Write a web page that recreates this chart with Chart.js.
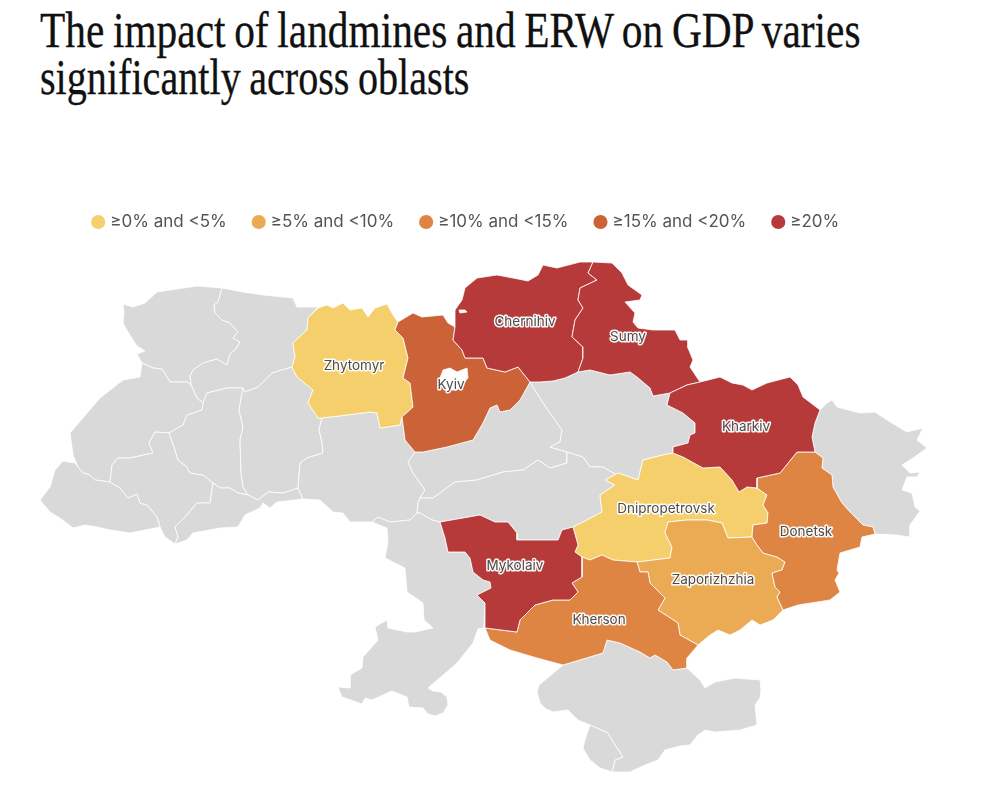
<!DOCTYPE html>
<html lang="en">
<head>
    <meta charset="UTF-8">
    <title>The impact of landmines and ERW on GDP varies significantly across oblasts</title>
    <script src="https://cdn.jsdelivr.net/npm/chart.js"></script>
    <style>
        html, body { margin: 0; padding: 0; background: #fff; overflow: hidden; }
        #head { height: 185px; position: relative; }
        h1 {
            position: absolute; left: 40px; top: 7px; margin: 0;
            font: normal 50px/47px "Liberation Serif", serif; color: #111;
            white-space: nowrap; word-spacing: -2px; -webkit-text-stroke: 0.3px #111;
        }
        h1 span { display: block; transform-origin: left top; }
        canvas { display: block; }
    </style>
</head>
<body>
    <div id="head"><h1><span style="transform: scaleX(0.827)">The impact of landmines and ERW on GDP varies</span><span style="transform: scaleX(0.803)">significantly across oblasts</span></h1></div>
    <canvas id="map" width="984" height="624"></canvas>

    <script>
        // Legend classes
        const binLabels = ['≥0% and <5%', '≥5% and <10%', '≥10% and <15%', '≥15% and <20%', '≥20%'];
        const binColors = ['#F5CF6C', '#EBAA54', '#DE8543', '#CC6238', '#B73A3A'];
        const noDataColor = '#D9D9D9';

        // Oblast outlines (x east, y south)
        const volyn = [[222,288],[197,286],[177,289],[157,292],[145,303],[133,307],[123,304],[124,313],[123,323],[128,332],[137,346],[145,351],[137,354],[142,363],[153,368],[162,369],[170,382],[187,382],[191,385],[190,376],[193,370],[203,363],[217,359],[227,365],[230,354],[235,350],[240,342],[233,338],[238,332],[230,323],[222,320],[215,313],[214,305],[218,302]];
        const rivne = [[222,288],[243,292],[263,295],[293,298],[297,307],[318,307],[308,318],[307,330],[293,343],[295,357],[292,367],[272,373],[258,387],[245,392],[243,388],[227,388],[207,393],[203,403],[197,398],[191,385],[190,376],[193,370],[203,363],[217,359],[227,365],[230,354],[235,350],[240,342],[233,338],[238,332],[230,323],[222,320],[215,313],[214,305],[218,302]];
        const lviv = [[142,363],[140,377],[123,380],[100,398],[70,433],[73,455],[78,467],[83,473],[90,475],[95,480],[110,482],[112,465],[118,458],[130,458],[153,453],[149,443],[155,432],[169,433],[183,425],[187,415],[202,410],[203,403],[197,398],[191,385],[187,382],[170,382],[162,369],[153,368]];
        const zakarpattia = [[78,467],[75,463],[63,461],[55,470],[50,487],[40,500],[50,512],[60,518],[73,528],[85,525],[97,527],[110,530],[130,533],[160,527],[157,517],[147,505],[140,503],[137,494],[128,498],[120,488],[110,482],[95,480],[90,475],[83,473]];
        const ivanoFrankivsk = [[110,482],[120,488],[128,498],[137,494],[140,503],[147,505],[157,517],[160,527],[165,537],[175,544],[178,537],[175,527],[185,517],[197,503],[210,503],[213,483],[203,475],[190,473],[187,467],[178,460],[175,450],[169,433],[155,432],[149,443],[153,453],[130,458],[118,458],[112,465]];
        const ternopil = [[203,403],[207,393],[227,388],[243,388],[239,410],[243,427],[240,440],[241,473],[243,487],[248,495],[238,493],[230,488],[220,488],[213,483],[203,475],[190,473],[187,467],[178,460],[175,450],[169,433],[183,425],[187,415],[202,410]];
        const khmelnytskyi = [[243,388],[245,392],[258,387],[272,373],[292,367],[297,377],[313,390],[308,403],[318,418],[322,418],[319,430],[322,442],[323,453],[307,458],[300,463],[298,488],[283,493],[268,492],[258,500],[248,495],[243,487],[241,473],[240,440],[243,427],[239,410]];
        const chernivtsi = [[213,483],[220,488],[230,488],[238,493],[248,495],[258,500],[268,492],[283,493],[298,488],[303,499],[277,502],[270,508],[263,503],[260,508],[245,515],[238,527],[220,528],[193,533],[187,540],[175,544],[178,537],[175,527],[185,517],[197,503],[210,503]];
        const vinnytsia = [[322,418],[347,415],[370,412],[377,413],[380,428],[400,425],[402,417],[405,440],[415,452],[408,462],[413,473],[425,490],[420,498],[418,503],[417,513],[410,520],[390,522],[378,517],[372,522],[350,522],[343,513],[333,512],[320,500],[303,499],[298,488],[300,463],[307,458],[323,453],[322,442],[319,430]];
        const cherkasy = [[415,452],[423,452],[447,447],[473,440],[483,423],[490,408],[497,405],[500,412],[510,410],[520,400],[530,382],[543,403],[562,430],[560,442],[550,447],[567,452],[567,463],[550,468],[538,460],[523,470],[503,472],[477,480],[455,482],[433,498],[420,498],[425,490],[413,473],[408,462]];
        const poltava = [[530,382],[540,382],[553,381],[565,378],[578,372],[590,370],[610,375],[630,372],[637,377],[650,388],[653,396],[670,393],[667,405],[683,413],[695,423],[695,433],[690,435],[688,443],[673,447],[673,453],[663,455],[643,460],[638,480],[620,477],[603,467],[590,467],[583,457],[567,452],[550,447],[560,442],[562,430],[543,403]];
        const kirovohrad = [[420,498],[433,498],[455,482],[477,480],[503,472],[523,470],[538,460],[550,468],[567,463],[567,452],[583,457],[590,467],[603,467],[620,477],[638,480],[618,473],[605,480],[615,485],[600,495],[602,512],[587,520],[573,527],[562,530],[558,540],[538,540],[527,540],[517,540],[517,533],[508,522],[495,522],[480,515],[463,518],[440,522],[432,520],[420,513],[417,513],[418,503]];
        const odesa = [[372,522],[387,528],[388,542],[385,558],[405,568],[407,592],[423,603],[424,620],[433,628],[415,632],[407,632],[388,628],[387,620],[375,627],[378,640],[363,657],[362,668],[350,675],[350,688],[338,687],[342,697],[362,704],[365,698],[372,700],[392,691],[407,697],[409,707],[423,708],[428,714],[435,716],[443,713],[448,705],[447,697],[441,692],[433,691],[428,688],[457,663],[473,643],[478,629],[484,628],[485,603],[477,595],[491,588],[490,582],[483,580],[473,572],[470,558],[465,552],[448,552],[445,538],[440,522],[432,520],[420,513],[417,513],[410,520],[390,522],[378,517]];
        const luhansk = [[815,452],[812,437],[815,423],[820,410],[827,403],[832,400],[837,407],[860,413],[875,412],[887,420],[907,432],[923,428],[917,440],[927,448],[913,458],[902,465],[910,473],[920,472],[917,477],[907,477],[902,490],[912,493],[915,507],[920,511],[910,525],[910,537],[897,535],[875,534],[873,527],[863,525],[850,512],[842,503],[833,487],[832,475],[822,468],[823,458]];
        const crimea = [[563,665],[603,653],[607,640],[620,643],[640,652],[650,658],[655,655],[667,662],[673,670],[687,668],[700,680],[705,688],[715,682],[735,678],[760,680],[761,690],[760,698],[755,705],[757,725],[740,730],[715,732],[705,730],[698,735],[690,745],[680,746],[665,750],[658,760],[645,765],[630,772],[612,772],[615,760],[623,757],[613,742],[610,737],[608,733],[590,725],[578,720],[568,710],[553,712],[546,709],[540,703],[537,692],[539,685],[545,680]];
        const sevastopol = [[590,725],[608,733],[610,737],[613,742],[623,757],[615,760],[612,772],[600,768],[590,760],[583,748],[585,740]];

        const zhytomyr = [[318,308],[327,305],[333,308],[343,303],[350,310],[362,308],[368,317],[375,308],[387,304],[393,315],[398,322],[395,330],[403,338],[408,358],[403,378],[410,383],[413,407],[402,417],[400,425],[380,428],[377,413],[370,412],[347,415],[322,418],[318,418],[308,403],[313,390],[297,377],[292,367],[295,357],[293,343],[307,330],[308,318]];
        const kyiv = [[398,322],[413,313],[422,317],[443,315],[448,323],[455,327],[453,340],[462,350],[465,358],[483,358],[487,368],[505,372],[518,367],[530,382],[520,400],[510,410],[500,412],[497,405],[490,408],[483,423],[473,440],[447,447],[423,452],[415,452],[405,440],[402,417],[413,407],[410,383],[403,378],[408,358],[403,338],[395,330]];
        const kyivCity = [[440,378],[443,370],[450,368],[457,372],[467,368],[468,378],[462,385],[457,390],[445,390]];
        const chernihivLake = [[459,310],[465,310],[467,312],[460,313]];
        const chernihiv = [[455,327],[455,310],[462,300],[465,288],[477,278],[497,275],[513,278],[528,281],[538,275],[543,265],[557,268],[580,262],[593,262],[588,273],[597,280],[580,288],[578,300],[583,308],[575,320],[572,337],[583,347],[583,358],[578,372],[565,378],[553,381],[540,382],[530,382],[518,367],[505,372],[487,368],[483,358],[465,358],[462,350],[453,340]];
        const sumy = [[593,262],[612,263],[622,273],[628,285],[642,295],[640,300],[625,302],[635,313],[633,322],[638,328],[653,330],[675,330],[680,340],[688,340],[688,348],[693,360],[690,367],[700,382],[687,385],[670,393],[653,396],[650,388],[637,377],[630,372],[610,375],[590,370],[578,372],[583,358],[583,347],[572,337],[575,320],[583,308],[578,300],[580,288],[597,280],[588,273]];
        const kharkiv = [[700,382],[720,377],[732,383],[743,385],[752,390],[767,383],[790,377],[798,385],[803,397],[820,410],[815,423],[812,437],[815,452],[797,452],[780,473],[757,478],[757,488],[747,487],[739,492],[732,480],[720,467],[703,468],[683,457],[673,453],[673,447],[688,443],[690,435],[695,433],[695,423],[683,413],[667,405],[670,393],[687,385]];
        const dnipropetrovsk = [[638,480],[643,460],[663,455],[673,453],[683,457],[703,468],[720,467],[732,480],[739,492],[747,487],[757,488],[767,495],[763,505],[768,513],[767,523],[753,525],[752,537],[728,538],[722,523],[707,520],[687,520],[668,522],[665,533],[672,547],[670,558],[637,562],[613,560],[602,555],[590,560],[582,557],[575,552],[578,545],[573,527],[587,520],[602,512],[600,495],[615,485],[605,480],[618,473]];
        const donetsk = [[757,478],[780,473],[797,452],[815,452],[823,458],[822,468],[832,475],[833,487],[842,503],[850,512],[863,525],[873,527],[875,534],[862,537],[860,547],[840,553],[837,570],[839,573],[835,580],[840,592],[830,600],[798,605],[783,610],[777,597],[780,592],[775,587],[772,573],[782,570],[785,562],[777,557],[763,553],[757,545],[752,537],[753,525],[767,523],[768,513],[763,505],[767,495],[757,488]];
        const zaporizhzhia = [[668,522],[687,520],[707,520],[722,523],[728,538],[752,537],[757,545],[763,553],[777,557],[785,562],[782,570],[772,573],[775,587],[780,592],[777,597],[783,610],[773,620],[760,625],[752,620],[740,630],[730,635],[718,630],[710,635],[698,645],[680,635],[678,623],[658,610],[665,598],[650,583],[648,572],[640,572],[637,562],[670,558],[672,547],[665,533]];
        const kherson = [[582,557],[590,560],[602,555],[613,560],[637,562],[640,572],[648,572],[650,583],[665,598],[658,610],[678,623],[680,635],[698,645],[687,658],[687,668],[673,670],[667,662],[655,655],[650,658],[640,652],[620,643],[607,640],[603,653],[563,665],[537,658],[510,650],[490,640],[485,628],[517,632],[520,620],[535,605],[553,600],[570,600],[578,592],[572,583],[582,577]];
        const mykolaiv = [[440,522],[463,518],[480,515],[495,522],[508,522],[517,533],[517,540],[527,540],[538,540],[558,540],[562,530],[573,527],[578,545],[575,552],[582,557],[582,577],[572,583],[578,592],[570,600],[553,600],[535,605],[520,620],[517,632],[485,628],[485,603],[477,595],[491,588],[490,582],[483,580],[473,572],[470,558],[465,552],[448,552],[445,538]];

        const greyShapes = [volyn, rivne, lviv, zakarpattia, ivanoFrankivsk, ternopil, khmelnytskyi, chernivtsi, vinnytsia, cherkasy, poltava, kirovohrad, odesa, luhansk, crimea, sevastopol];
        const colouredShapes = [zhytomyr, dnipropetrovsk, zaporizhzhia, donetsk, kherson, kyiv, chernihiv, sumy, kharkiv, mykolaiv];
        const colouredBins = [0, 0, 1, 2, 2, 3, 4, 4, 4, 4];
        const whiteShapes = [kyivCity, chernihivLake];

        // Names printed on the map
        const labelNames = ['Zhytomyr', 'Kyiv', 'Chernihiv', 'Sumy', 'Kharkiv', 'Dnipropetrovsk', 'Donetsk', 'Zaporizhzhia', 'Kherson', 'Mykolaiv'];
        const labelX = [354, 451, 525, 628, 746, 666, 806, 713, 599, 515];
        const labelY = [366, 385, 322, 337, 427, 509, 532, 580, 620, 566];

        function shapeDataset(shape, color) {
            const points = shape.concat([shape[0]]).map(p => ({ x: p[0], y: p[1] }));
            return {
                data: points,
                showLine: true,
                fill: 'shape',
                backgroundColor: color,
                borderColor: 'rgba(255,255,255,0.8)',
                borderWidth: 1,
                pointRadius: 0,
                tension: 0,
                clip: false
            };
        }

        const datasets = greyShapes.map(s => shapeDataset(s, noDataColor))
            .concat(colouredShapes.map((s, i) => shapeDataset(s, binColors[colouredBins[i]])))
            .concat(whiteShapes.map(s => shapeDataset(s, '#ffffff')));

        // Draw later datasets on top of the earlier ones
        datasets.forEach((d, i) => { d.order = datasets.length - i; });

        // Oblast names with a white halo
        const mapLabels = {
            id: 'mapLabels',
            afterDraw(chart) {
                const c = chart.ctx;
                c.save();
                c.font = '13.5px Inter';
                c.textAlign = 'center';
                c.textBaseline = 'middle';
                c.lineJoin = 'round';
                labelNames.forEach((name, i) => {
                    const x = chart.scales.x.getPixelForValue(labelX[i]);
                    const y = chart.scales.y.getPixelForValue(labelY[i]);
                    c.strokeStyle = 'rgba(255,255,255,0.95)';
                    c.lineWidth = 3;
                    c.strokeText(name, x, y);
                    c.fillStyle = '#4d4d4d';
                    c.fillText(name, x, y);
                });
                c.restore();
            }
        };

        new Chart(document.getElementById('map'), {
            type: 'scatter',
            data: { datasets: datasets },
            plugins: [mapLabels],
            options: {
                responsive: false,
                animation: false,
                events: [],
                layout: { padding: { right: 50 } },
                scales: {
                    x: { type: 'linear', display: false, min: 0, max: 934 },
                    y: { type: 'linear', display: false, reverse: true, min: 240.5, max: 809 }
                },
                plugins: {
                    tooltip: { enabled: false },
                    legend: {
                        position: 'top',
                        labels: {
                            usePointStyle: true,
                            boxWidth: 7,
                            boxHeight: 10,
                            padding: 28.5,
                            color: '#555555',
                            font: { family: 'Inter', size: 17 },
                            generateLabels: () => binLabels.map((text, i) => ({
                                text: text,
                                fillStyle: binColors[i],
                                strokeStyle: binColors[i],
                                fontColor: '#555555',
                                lineWidth: 0,
                                pointStyle: 'circle',
                                hidden: false
                            }))
                        }
                    }
                }
            }
        });
    </script>
</body>
</html>
